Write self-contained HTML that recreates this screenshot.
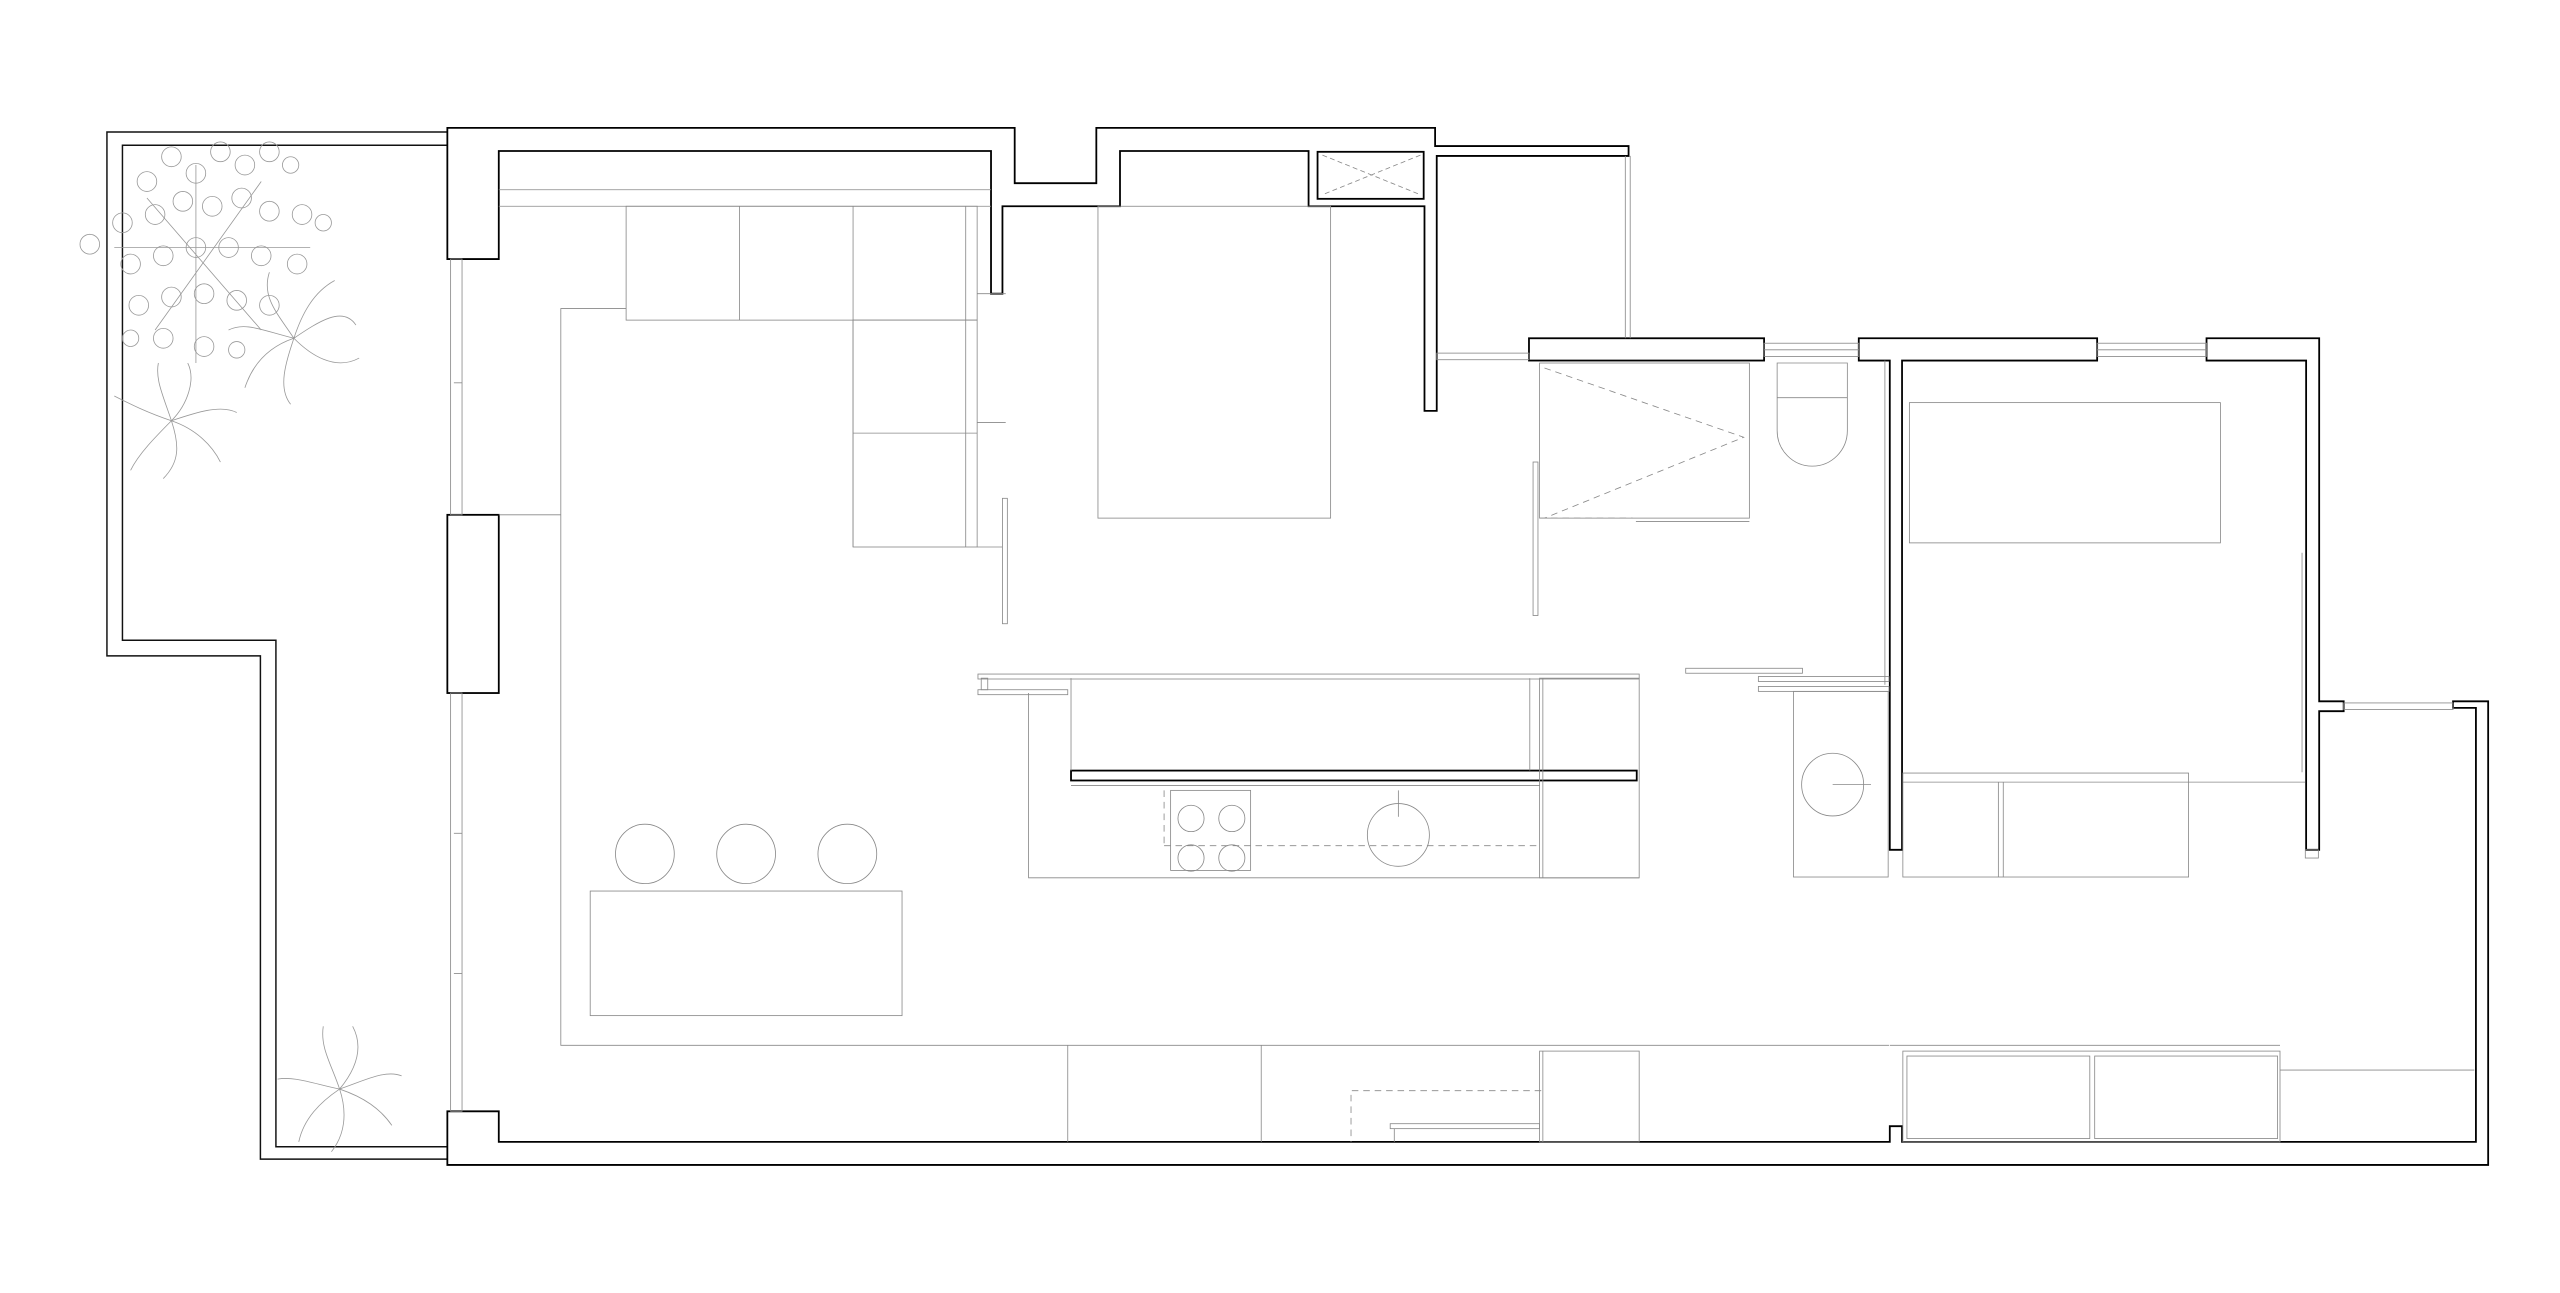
<!DOCTYPE html>
<html><head><meta charset="utf-8"><style>html,body{margin:0;padding:0;background:#fff}svg{display:block}</style></head>
<body>
<svg width="2560" height="1293" viewBox="0 0 1568 783.6" preserveAspectRatio="none" xmlns="http://www.w3.org/2000/svg">
<rect width="1568" height="792" fill="#fff"/>
<!-- terrace -->
<g fill="none" stroke="#111" stroke-width="0.9">
<polyline points="274,80 65.5,80 65.5,397.5 159.5,397.5 159.5,702.5 274,702.5"/>
<polyline points="274,88 75,88 75,388 169,388 169,695 274,695"/>
</g>
<!-- walls -->
<g fill="#fff" stroke="#000" stroke-width="1.1">
<polygon points="274,77.5 621.5,77.5 621.5,111 671.5,111 671.5,77.5 879,77.5 879,88.5 997.5,88.5 997.5,94.5 880,94.5 880,249 872.5,249 872.5,125 801.5,125 801.5,91.5 686,91.5 686,125 614,125 614,178 607,178 607,91.5 305.5,91.5 305.5,157 274,157"/>
<rect x="807" y="92" width="65" height="28.5"/>
<rect x="274" y="312" width="31.5" height="108"/>
<polygon points="274,673.5 305.5,673.5 305.5,692 1157.5,692 1157.5,682.5 1165,682.5 1165,692 1516.5,692 1516.5,429 1502.5,429 1502.5,425 1524,425 1524,706 274,706"/>
<polygon points="1351.5,205 1420.5,205 1420.5,425 1435.5,425 1435.5,431 1420.5,431 1420.5,515 1412.5,515 1412.5,218.5 1351.5,218.5"/>
<rect x="936.5" y="205" width="144" height="13.5"/>
<polygon points="1138.5,205 1284.5,205 1284.5,218.5 1165,218.5 1165,515 1157.5,515 1157.5,218.5 1138.5,218.5"/>
<rect x="656" y="467" width="346.5" height="6"/>
</g>
<!-- thin lines -->
<g fill="none" stroke="#888" stroke-width="0.5">
<line x1="810" y1="94" x2="870" y2="118" stroke-dasharray="3,2"/><line x1="870" y1="94" x2="810" y2="118" stroke-dasharray="3,2"/>
<line x1="995.5" y1="94.5" x2="995.5" y2="205"/><line x1="998.5" y1="94.5" x2="998.5" y2="205"/>
<rect x="880" y="214" width="56.5" height="4"/><rect x="1080.5" y="208" width="58" height="8"/><line x1="1080.5" y1="212" x2="1138.5" y2="212"/>
<rect x="1284.5" y="208" width="67" height="8"/><line x1="1284.5" y1="212" x2="1351.5" y2="212"/>
<rect x="1435.5" y="426" width="67" height="4"/>
<rect x="276" y="157" width="7" height="155"/><rect x="276" y="420" width="7" height="253.5"/>
<line x1="278" y1="232" x2="283" y2="232"/><line x1="278" y1="505" x2="283" y2="505"/><line x1="278" y1="590" x2="283" y2="590"/>
<line x1="305.5" y1="115" x2="607" y2="115"/><line x1="305.5" y1="125" x2="607" y2="125"/>
<rect x="383.5" y="125" width="215" height="69"/><line x1="453" y1="125" x2="453" y2="194"/><line x1="522.5" y1="125" x2="522.5" y2="331.5"/>
<rect x="522.5" y="194" width="76" height="137.5"/><line x1="522.5" y1="262.5" x2="598.5" y2="262.5"/><line x1="591.5" y1="125" x2="591.5" y2="331.5"/>
<line x1="598.5" y1="178" x2="616" y2="178"/><line x1="598.5" y1="256" x2="616" y2="256"/><line x1="598.5" y1="331.5" x2="614" y2="331.5"/>
<rect x="614" y="302" width="3" height="76"/>
<polyline points="383.5,187 343.5,187 343.5,633.5 1157,633.5"/><line x1="305.5" y1="312" x2="343.5" y2="312"/>
<rect x="361.5" y="540" width="191" height="75.5"/>
<circle cx="395" cy="517.5" r="18"/><circle cx="457" cy="517.5" r="18"/><circle cx="519" cy="517.5" r="18"/>
<rect x="672.5" y="125" width="142.5" height="189"/>
<rect x="599" y="408.5" width="405" height="3"/><rect x="599" y="418" width="55" height="3"/><rect x="601" y="411" width="4" height="7"/>
<line x1="656" y1="411" x2="656" y2="467"/><rect x="943" y="411" width="61" height="121"/><line x1="945" y1="411" x2="945" y2="532"/><line x1="937" y1="411" x2="937" y2="467"/>
<polyline points="630,420 630,532 1004,532"/><line x1="656" y1="476" x2="943" y2="476"/>
<rect x="717" y="479" width="49" height="48.5"/>
<circle cx="729.5" cy="496" r="8"/><circle cx="754.5" cy="496" r="8"/><circle cx="729.5" cy="520" r="8"/><circle cx="754.5" cy="520" r="8"/>
<line x1="713" y1="512.5" x2="942" y2="512.5" stroke-dasharray="4,3"/><line x1="713" y1="479" x2="713" y2="512" stroke-dasharray="4,3"/>
<circle cx="856.5" cy="506" r="19"/><line x1="856.5" y1="479" x2="856.5" y2="495"/>
<rect x="943" y="220" width="128.5" height="94"/><line x1="1002" y1="316" x2="1071.5" y2="316"/>
<polyline points="946,223 1068,265 946,314" stroke-dasharray="4,3"/><line x1="943" y1="314" x2="1000" y2="314" stroke-dasharray="4,3"/>
<path d="M1088.5,220 H1131.5 V261 A21.5,21.5 0 0 1 1088.5,261 Z"/><line x1="1088.5" y1="241" x2="1131.5" y2="241"/>
<rect x="939" y="280" width="3" height="93"/>
<rect x="1098.5" y="419" width="58" height="112.5"/><circle cx="1122.5" cy="475.5" r="19"/><line x1="1122.5" y1="475.5" x2="1146" y2="475.5"/>
<rect x="1032.5" y="405" width="71.5" height="3"/><rect x="1077" y="410" width="80" height="3"/><rect x="1077" y="416" width="80" height="3"/>
<line x1="1154.5" y1="218.5" x2="1154.5" y2="415"/>
<rect x="1169.5" y="244" width="190.5" height="85"/>
<rect x="1165.5" y="468.5" width="175" height="63"/><line x1="1224" y1="474" x2="1224" y2="531.5"/><line x1="1227" y1="474" x2="1227" y2="531.5"/>
<line x1="1165.5" y1="474" x2="1412" y2="474"/><line x1="1410" y1="335" x2="1410" y2="468"/>
<rect x="1412" y="515" width="8" height="5"/>
<line x1="654" y1="633.5" x2="654" y2="692"/><line x1="772.5" y1="633.5" x2="772.5" y2="692"/>
<rect x="943" y="637" width="61" height="55"/><line x1="945" y1="637" x2="945" y2="692"/>
<rect x="1165.5" y="637" width="231" height="55"/><rect x="1168" y="640" width="112" height="50"/><rect x="1283" y="640" width="112" height="50"/>
<line x1="1396.5" y1="648.5" x2="1515.5" y2="648.5"/><line x1="1157.5" y1="633.5" x2="1396.5" y2="633.5"/>
<polyline points="944,661 827.5,661 827.5,692" stroke-dasharray="4,3"/>
<rect x="851.5" y="681" width="91.5" height="3"/><line x1="854" y1="684" x2="854" y2="692"/>
</g>
<g fill="none" stroke="#999" stroke-width="0.5">
<g transform="translate(180,205)">
<path d="M0,0 C15,-10 30,-20 38,-8 M0,0 C10,10 25,20 40,12 M0,0 C-5,15 -10,30 -2,40 M0,0 C-15,5 -25,15 -30,30 M0,0 C-10,-15 -20,-25 -15,-40 M0,0 C5,-15 12,-28 25,-35 M0,0 C-20,-5 -30,-10 -40,-5"/>
</g>
<g transform="translate(105,255)">
<path d="M0,0 C10,-10 15,-25 10,-35 M0,0 C15,-5 30,-10 40,-5 M0,0 C15,5 25,15 30,25 M0,0 C5,15 5,25 -5,35 M0,0 C-10,10 -20,20 -25,30 M0,0 C-15,-5 -25,-10 -35,-15 M0,0 C-5,-15 -10,-25 -8,-35"/>
</g>
<g transform="translate(208,660)">
<path d="M0,0 C10,-12 15,-25 8,-38 M0,0 C15,-5 28,-12 38,-8 M0,0 C15,5 25,12 32,22 M0,0 C5,15 3,28 -5,38 M0,0 C-12,8 -22,18 -25,32 M0,0 C-15,-3 -28,-8 -38,-6 M0,0 C-5,-15 -12,-25 -10,-38"/>
</g>
<g>
<circle cx="90" cy="110" r="6"/><circle cx="105" cy="95" r="6"/><circle cx="120" cy="105" r="6"/><circle cx="135" cy="92" r="6"/><circle cx="150" cy="100" r="6"/><circle cx="165" cy="92" r="6"/><circle cx="178" cy="100" r="5"/>
<circle cx="55" cy="148" r="6"/><circle cx="75" cy="135" r="6"/><circle cx="95" cy="130" r="6"/><circle cx="112" cy="122" r="6"/><circle cx="130" cy="125" r="6"/><circle cx="148" cy="120" r="6"/><circle cx="165" cy="128" r="6"/><circle cx="185" cy="130" r="6"/><circle cx="198" cy="135" r="5"/>
<circle cx="80" cy="160" r="6"/><circle cx="100" cy="155" r="6"/><circle cx="120" cy="150" r="6"/><circle cx="140" cy="150" r="6"/><circle cx="160" cy="155" r="6"/><circle cx="182" cy="160" r="6"/>
<circle cx="85" cy="185" r="6"/><circle cx="105" cy="180" r="6"/><circle cx="125" cy="178" r="6"/><circle cx="145" cy="182" r="6"/><circle cx="165" cy="185" r="6"/>
<circle cx="80" cy="205" r="5"/><circle cx="100" cy="205" r="6"/><circle cx="125" cy="210" r="6"/><circle cx="145" cy="212" r="5"/>
<path d="M70,150 L190,150 M120,100 L120,220 M90,120 L160,200 M160,110 L95,200"/>
</g>
</g>
</svg>
</body></html>
